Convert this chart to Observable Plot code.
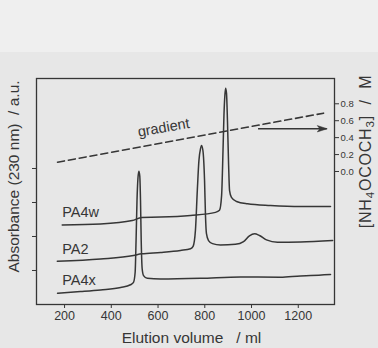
<!DOCTYPE html>
<html><head><meta charset="utf-8">
<script src="https://cdn.jsdelivr.net/npm/d3@7"></script>
<script src="https://cdn.jsdelivr.net/npm/@observablehq/plot@0.6"></script>
<style>
html,body{margin:0;padding:0;background:#e7e7e7;}
#wrap{position:relative;width:378px;height:348px;overflow:hidden;}
#band{position:absolute;left:0;top:0;width:378px;height:52px;background:#efefef;}
#chart{position:absolute;left:0;top:0;}
</style></head><body>
<div id="wrap"><div id="band"></div><div id="chart"></div></div>
<script>
// ---- data ----
const volPA4x = [170, 268, 354, 440, 482, 495, 502, 506, 510, 514, 518, 522, 525, 528, 532, 538, 554, 611, 782, 953, 1124, 1210, 1253, 1338];
const absPA4x = [0.33, 0.38, 0.43, 0.50, 0.58, 0.65, 0.94, 1.88, 3.06, 3.71, 3.92, 3.77, 3.06, 1.88, 1.06, 0.85, 0.77, 0.75, 0.77, 0.81, 0.80, 0.84, 0.85, 0.88];

const volPA2 = [169, 354, 495, 530, 611, 696, 739, 750, 760, 768, 775, 782, 786, 792, 799, 803, 807, 816, 833, 867, 931, 966, 991, 1013, 1034, 1064, 1111, 1210, 1347];
const absPA2 = [1.27, 1.34, 1.44, 1.49, 1.53, 1.59, 1.64, 1.71, 2.18, 3.35, 4.24, 4.59, 4.68, 4.53, 3.65, 2.62, 2.09, 1.88, 1.79, 1.75, 1.77, 1.85, 2.02, 2.08, 2.03, 1.90, 1.83, 1.84, 1.88];

const volPA4w = [190, 354, 490, 530, 611, 739, 846, 863, 872, 878, 882, 886, 889, 893, 897, 902, 906, 914, 936, 983, 1081, 1210, 1338];
const absPA4w = [2.34, 2.37, 2.47, 2.56, 2.57, 2.62, 2.71, 2.77, 3.21, 4.53, 5.56, 6.15, 6.36, 6.21, 5.41, 4.09, 3.35, 3.15, 3.03, 2.96, 2.91, 2.88, 2.88];

// gradient of [NH4OCOCH3] (M) along elution volume
const gradVol = [170, 1308];
const gradConc = [0.11, 0.689];
const arrowVol = [1030, 1324];
const arrowConc = 0.505;

const seriesNames = ["PA4w", "PA2", "PA4x"];
const labelVol = [190, 190, 190];
const labelAbs = [2.72, 1.62, 0.71];

const xTicks = [200, 400, 600, 800, 1000, 1200];
const yTicks = [1, 2, 3, 4];
const concTicks = [0.0, 0.2, 0.4, 0.6, 0.8];

// mapping of concentration onto the absorbance scale (right axis)
const concOffset = 3.912, concFactor = 2.489;
const toAbs = c => concOffset + c * concFactor;
const toConc = a => (a - concOffset) / concFactor;

// ---- build tables ----
const traces = [
  ...volPA4x.map((v, i) => ({series: "PA4x", vol: v, abs: absPA4x[i]})),
  ...volPA2.map((v, i) => ({series: "PA2", vol: v, abs: absPA2[i]})),
  ...volPA4w.map((v, i) => ({series: "PA4w", vol: v, abs: absPA4w[i]}))
];
const grad = gradVol.map((v, i) => ({vol: v, abs: toAbs(gradConc[i])}));
const labels = seriesNames.map((s, i) => ({name: s, vol: labelVol[i], abs: labelAbs[i]}));
const arrow = [{x1: arrowVol[0], x2: arrowVol[1], y: toAbs(arrowConc)}];

// narrow filled arrow head symbol (points right)
const headSymbol = {
  draw(ctx, size) {
    ctx.moveTo(0, 0);
    ctx.lineTo(-10, -3.2);
    ctx.lineTo(-7.5, 0);
    ctx.lineTo(-10, 3.2);
    ctx.closePath();
  }
};

const ink = "#363636";
const font = "'Liberation Sans', Arial, Helvetica, sans-serif";

const chart = Plot.plot({
  width: 378,
  height: 348,
  marginLeft: 36,
  marginRight: 44,
  marginTop: 78,
  marginBottom: 44,
  style: {background: "transparent", fontFamily: font, color: ink},
  x: {domain: [80, 1355]},
  y: {domain: [0, 6.647]},
  marks: [
    Plot.axisX({ticks: xTicks, tickSize: 4, tickPadding: 3, fontSize: 12.5, tickFormat: d => String(d), label: null, stroke: ink, fill: ink}),
    Plot.axisY({anchor: "left", ticks: yTicks, tickSize: 4, tickFormat: () => "", label: null, stroke: ink}),
    Plot.axisY({anchor: "right", ticks: concTicks.map(toAbs), tickSize: 4, tickPadding: 2, fontSize: 9.5,
      tickFormat: d => toConc(d).toFixed(1), label: null, stroke: ink, fill: ink}),
    Plot.frame({stroke: ink, strokeWidth: 1.3}),
    Plot.line(grad, {x: "vol", y: "abs", stroke: ink, strokeWidth: 1.6, strokeDasharray: "7,4"}),
    Plot.ruleY(arrow, {x1: "x1", x2: "x2", y: "y", stroke: ink, strokeWidth: 1.5}),
    Plot.dot(arrow, {x: "x2", y: "y", symbol: headSymbol, fill: ink, stroke: ink, strokeWidth: 0.5, r: 4}),
    Plot.line(traces, {x: "vol", y: "abs", z: "series", stroke: ink, strokeWidth: 1.5, curve: "monotone-x"}),
    Plot.text(labels, {x: "vol", y: "abs", text: "name", textAnchor: "start", lineAnchor: "middle", fontSize: 14.5, fill: ink}),
    Plot.text(["gradient"], {x: () => 624, y: () => 5.2, rotate: -10, fontSize: 14.5, fill: ink, lineAnchor: "middle"}),
    Plot.text(["Elution volume   / ml"], {frameAnchor: "bottom", textAnchor: "middle", dx: 6, dy: 34, fontSize: 15.5, fill: ink, lineAnchor: "middle"}),
    Plot.text(["Absorbance (230 nm)  / a.u."], {frameAnchor: "left", textAnchor: "middle", rotate: -90, dx: -22, dy: -15, fontSize: 15.5, fill: ink, lineAnchor: "middle"}),
    Plot.text(["[NH4OCOCH3] / M"], {frameAnchor: "right", textAnchor: "middle", rotate: -90, dx: 31, dy: -40, fontSize: 16, fill: ink, lineAnchor: "middle", className: "conc-title"})
  ]
});

document.getElementById("chart").appendChild(chart);

// render subscripts in the right-hand title
d3.select(chart).selectAll(".conc-title text").each(function() {
  const t = d3.select(this);
  t.text(null).attr("letter-spacing", "0.8px");
  const parts = [["[NH", false], ["4", true], ["OCOCH", false], ["3", true], ["]  /  M", false]];
  parts.forEach(([s, sub]) => {
    t.append("tspan").text(s)
      .attr("font-size", sub ? "0.72em" : null)
      .attr("baseline-shift", sub ? "-25%" : null);
  });
});
</script>
</body></html>
